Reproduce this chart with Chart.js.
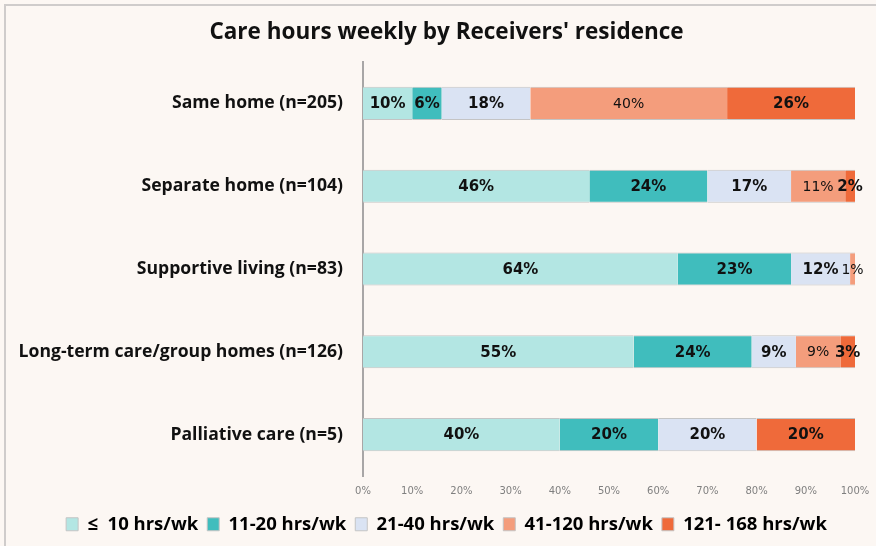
<!DOCTYPE html>
<html>
<head>
<meta charset="utf-8">
<title>Care hours weekly by Receivers' residence</title>
<script src="https://cdn.jsdelivr.net/npm/chart.js@4/dist/chart.umd.min.js"></script>
<style>
	html, body {
		margin: 0;
		padding: 0;
		background: #fcf7f3;
	}
	#frame {
		position: absolute;
		left: 4px;
		top: 4px;
		width: 900px;
		height: 600px;
		border-left: 2px solid #cfcccb;
		border-top: 2px solid #cfcccb;
	}
	#wrap {
		position: absolute;
		left: 0;
		top: 0;
		width: 876px;
		height: 546px;
	}
</style>
</head>
<body>
<div id="frame"></div>
<div id="wrap"><canvas id="chart_0"></canvas></div>
<script>
// chart values
var residences = [ 'Same home (n=205)', 'Separate home (n=104)',
		'Supportive living (n=83)', 'Long-term care/group homes (n=126)',
		'Palliative care (n=5)' ];
var seriesNames = [ '\u2264  10 hrs/wk', '11-20 hrs/wk', '21-40 hrs/wk',
		'41-120 hrs/wk', '121- 168 hrs/wk' ];
var upTo10 = [ 10, 46, 64, 55, 40 ];
var hrs11to20 = [ 6, 24, 23, 24, 20 ];
var hrs21to40 = [ 18, 17, 12, 9, 20 ];
var hrs41to120 = [ 40, 11, 1, 9, 0 ];
var hrs121to168 = [ 26, 2, 0, 3, 20 ];
var xTicks = [ 0, 10, 20, 30, 40, 50, 60, 70, 80, 90, 100 ];

(function() {
	'use strict';
	var seriesColors = [ '#b3e6e3', '#40bdbd', '#dae3f3', '#f49d7c', '#ef6a3a' ];
	var seriesValues = [ upTo10, hrs11to20, hrs21to40, hrs41to120, hrs121to168 ];
	var labelFont = 'DejaVu Sans';
	var textFont = 'Open Sans';

	// draws the percent in the middle of each bar piece
	var barLabels = {
		id : 'barLabels',
		afterDatasetsDraw : function(chart) {
			var ctx = chart.ctx;
			ctx.save();
			ctx.textAlign = 'center';
			ctx.textBaseline = 'middle';
			ctx.fillStyle = '#111111';
			chart.data.datasets.forEach(function(ds, i) {
				var meta = chart.getDatasetMeta(i);
				ctx.font = (i == 3 ? 'normal 14px ' : 'bold 15px ') + labelFont;
				meta.data.forEach(function(bar, j) {
					var v = ds.data[j];
					if (!v) {
						return;
					}
					var p = bar.getProps([ 'x', 'y', 'base' ], true);
					ctx.fillText(v + '%', (p.x + p.base) / 2, p.y + 1);
				});
			});
			ctx.restore();
		}
	};

	var datasets = [];
	for (var i = 0; i < seriesNames.length; i++) {
		datasets.push({
			label : seriesNames[i],
			data : seriesValues[i],
			backgroundColor : seriesColors[i],
			borderColor : '#c4c4c4',
			borderWidth : {
				top : 1,
				bottom : 1,
				left : 0,
				right : 0
			},
			borderSkipped : false,
			categoryPercentage : 0.8,
			barPercentage : 0.5
		});
	}

	var ctx = document.getElementById('chart_0');
	new Chart(ctx, {
		type : 'bar',
		data : {
			labels : residences,
			datasets : datasets
		},
		plugins : [ barLabels ],
		options : {
			indexAxis : 'y',
			responsive : true,
			maintainAspectRatio : false,
			animation : false,
			layout : {
				padding : {
					left : 17,
					right : 0,
					top : 0,
					bottom : 2.5
				}
			},
			scales : {
				x : {
					stacked : true,
					min : 0,
					max : 100,
					afterBuildTicks : function(scale) {
						scale.ticks = xTicks.map(function(v) {
							return {
								value : v
							};
						});
					},
					afterFit : function(scale) {
						// keep the plot end at the same place as the picture
						scale.paddingLeft = 0;
						scale.paddingRight = 21;
					},
					grid : {
						display : false,
						drawTicks : false
					},
					border : {
						display : false
					},
					ticks : {
						padding : 9,
						color : '#7f7f7f',
						font : {
							family : labelFont,
							size : 10
						},
						callback : function(v) {
							return v + '%';
						}
					}
				},
				y : {
					stacked : true,
					afterFit : function(scale) {
						scale.width = 346;
					},
					grid : {
						display : false,
						drawTicks : false
					},
					border : {
						display : true,
						color : '#a8a6a6',
						width : 2
					},
					ticks : {
						padding : 20,
						color : '#111111',
						font : {
							family : textFont,
							size : 17.6,
							weight : 'bold'
						}
					}
				}
			},
			plugins : {
				title : {
					display : true,
					text : "Care hours weekly by Receivers' residence",
					color : '#111111',
					font : {
						family : textFont,
						size : 22.5,
						weight : 'bold'
					},
					padding : {
						top : 19,
						bottom : 16
					}
				},
				legend : {
					position : 'bottom',
					labels : {
						boxWidth : 12,
						boxHeight : 13,
						padding : 9,
						color : '#111111',
						font : {
							family : textFont,
							size : 18.5,
							weight : 'bold',
							lineHeight : 1
						},
						generateLabels : function(chart) {
							return chart.data.datasets.map(function(ds, i) {
								return {
									text : ds.label,
									fillStyle : ds.backgroundColor,
									strokeStyle : '#c4c4c4',
									lineWidth : 1,
									datasetIndex : i
								};
							});
						}
					}
				},
				tooltip : {
					enabled : false
				}
			}
		}
	});
})();
</script>
</body>
</html>
